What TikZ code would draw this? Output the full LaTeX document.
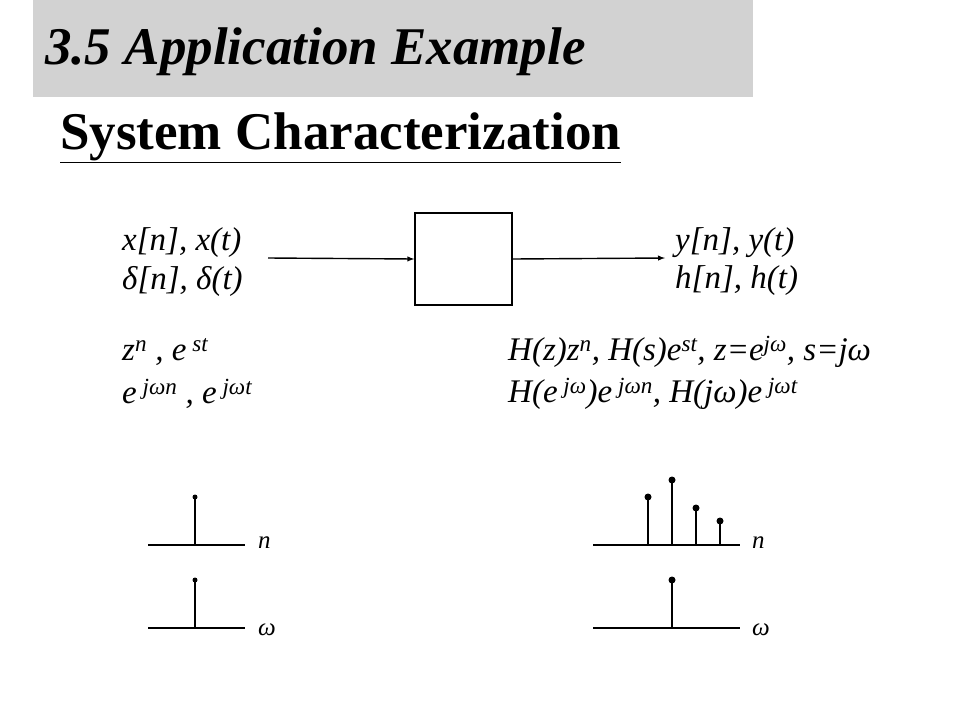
\documentclass[tikz,border=0pt]{standalone}
\usepackage{fontspec}
\setmainfont{Liberation Serif}
\usetikzlibrary{positioning}
\tikzset{
  lbl/.style={anchor=west, inner sep=0pt, font=\fontsize{33}{36}\selectfont\itshape},
  small/.style={anchor=west, inner sep=0pt, font=\fontsize{25}{28}\selectfont\itshape},
  axisline/.style={line width=1.5pt},
  stemline/.style={line width=1.5pt},
  dot/.style={circle, fill=black, inner sep=0pt, minimum size=5pt},
  bigdot/.style={circle, fill=black, inner sep=0pt, minimum size=7pt}
}
\begin{document}
\begin{tikzpicture}[x=1pt,y=-1pt]
  \useasboundingbox (0,0) rectangle (960,720);
  % title
  \fill[gray!35] (33,0) rectangle (753,97);
  \node[anchor=west, inner sep=0pt, font=\fontsize{53}{58}\selectfont\bfseries\itshape] (title) at (45,52) {3.5 Application Example};
  \node[anchor=west, inner sep=0pt, font=\fontsize{53}{58}\selectfont\bfseries] (sub) at (60,138) {\underline{System Characterization}};
  % system block
  \node[draw, line width=1.4pt, minimum width=97pt, minimum height=92pt, inner sep=0pt] (sys) at (463.5,259) {};
  \coordinate (in) at (268,258);
  \coordinate (out) at (665,258);
  \draw[line width=1.4pt, -latex] (in) -- (sys.west);
  \draw[line width=1.4pt, -latex] (sys.east) -- (out);
  % labels
  \node[lbl] (xn) at (122,243) {x[n], x(t)};
  \node[lbl] (dn) at (122,281) {δ[n], δ(t)};
  \node[lbl] (yn) at (675,243) {y[n], y(t)};
  \node[lbl] (hn) at (675,281) {h[n], h(t)};
  \node[lbl] (zn) at (122,352) {z\textsuperscript{n} , e\textsuperscript{ st}};
  \node[lbl] (hz) at (508,352) {H(z)z\textsuperscript{n}, H(s)e\textsuperscript{st}, z=e\textsuperscript{jω}, s=jω};
  \node[lbl] (ej) at (122,394) {e\textsuperscript{ jωn} , e\textsuperscript{ jωt}};
  \node[lbl] (he) at (508,394) {H(e\textsuperscript{ jω})e\textsuperscript{ jωn}, H(jω)e\textsuperscript{ jωt}};
  % left stem plots
  \draw[axisline] (148,545) -- (245,545);
  \draw[stemline] (195,545) -- (195,497) node[dot] (l1) {};
  \node[small] (ln) at (258,543) {n};
  \draw[axisline] (148,628) -- (245,628);
  \draw[stemline] (195,628) -- (195,580) node[dot] (l2) {};
  \node[small] (lw) at (258,630) {ω};
  % right stem plots
  \draw[axisline] (593,545) -- (740,545);
  \foreach \x/\y in {648/497, 672/480, 696/508, 720/521}
    \draw[stemline] (\x,545) -- (\x,\y) node[bigdot] {};
  \node[small] (rn) at (752,543) {n};
  \draw[axisline] (593,628) -- (740,628);
  \draw[stemline] (672,628) -- (672,580) node[bigdot] (r2) {};
  \node[small] (rw) at (752,630) {ω};
\end{tikzpicture}
\end{document}
